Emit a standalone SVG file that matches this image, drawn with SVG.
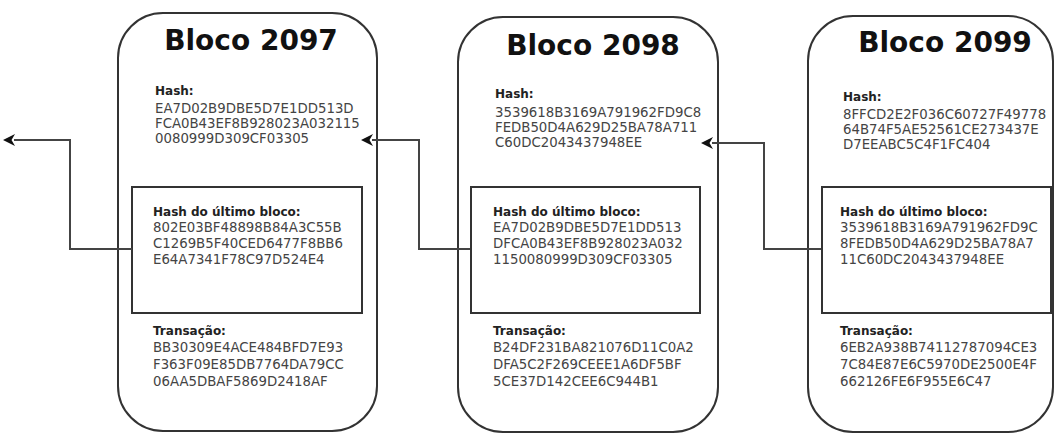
<svg xmlns="http://www.w3.org/2000/svg" width="1056" height="434" viewBox="0 0 1056 434">
<style>
.blk{fill:#fff;stroke:#333;stroke-width:2}
.inner{fill:#fff;stroke:#333;stroke-width:2}
.title{font-family:"DejaVu Sans",Verdana,sans-serif;font-weight:bold;font-size:28px;fill:#111;text-anchor:middle}
.lbl{font-family:"DejaVu Sans",Verdana,sans-serif;font-weight:bold;font-size:12px;fill:#222}
.hex{font-family:"DejaVu Sans",Verdana,sans-serif;font-size:13.3px;fill:#444}
.con{fill:none;stroke:#444;stroke-width:2}
</style>
<defs>
<marker id="arr" viewBox="0 0 12 12" refX="1" refY="6" markerWidth="12" markerHeight="12" markerUnits="userSpaceOnUse" orient="auto">
<path d="M12,6 L0,0 L3.5,6 L0,12 Z" fill="#111"/>
</marker>
</defs>
<rect width="1056" height="434" fill="#fff"/>
<g id="bloco2097">
<rect class="blk" x="118" y="13" width="259" height="418" rx="45" ry="45"/>
<rect class="inner" x="132" y="187" width="230" height="126"/>
<text class="title" x="251" y="50">Bloco 2097</text>
<text class="lbl" x="155" y="95">Hash:</text>
<text class="hex" x="155" y="113">EA7D02B9DBE5D7E1DD513D</text>
<text class="hex" x="155" y="128">FCA0B43EF8B928023A032115</text>
<text class="hex" x="155" y="143">0080999D309CF03305</text>
<text class="lbl" x="153" y="216">Hash do último bloco:</text>
<text class="hex" x="153" y="232">802E03BF48898B84A3C55B</text>
<text class="hex" x="153" y="248">C1269B5F40CED6477F8BB6</text>
<text class="hex" x="153" y="264">E64A7341F78C97D524E4</text>
<text class="lbl" x="153" y="335">Transação:</text>
<text class="hex" x="153" y="352">BB30309E4ACE484BFD7E93</text>
<text class="hex" x="153" y="369">F363F09E85DB7764DA79CC</text>
<text class="hex" x="153" y="386">06AA5DBAF5869D2418AF</text>
</g>
<g id="bloco2098">
<rect class="blk" x="458" y="17" width="260" height="415" rx="45" ry="45"/>
<rect class="inner" x="471" y="187" width="229" height="126"/>
<text class="title" x="593" y="55">Bloco 2098</text>
<text class="lbl" x="495" y="98">Hash:</text>
<text class="hex" x="495" y="117">3539618B3169A791962FD9C8</text>
<text class="hex" x="495" y="132">FEDB50D4A629D25BA78A711</text>
<text class="hex" x="495" y="147">C60DC2043437948EE</text>
<text class="lbl" x="493" y="216">Hash do último bloco:</text>
<text class="hex" x="493" y="232">EA7D02B9DBE5D7E1DD513</text>
<text class="hex" x="493" y="248">DFCA0B43EF8B928023A032</text>
<text class="hex" x="493" y="264">1150080999D309CF03305</text>
<text class="lbl" x="493" y="335">Transação:</text>
<text class="hex" x="493" y="352">B24DF231BA821076D11C0A2</text>
<text class="hex" x="493" y="369">DFA5C2F269CEEE1A6DF5BF</text>
<text class="hex" x="493" y="386">5CE37D142CEE6C944B1</text>
</g>
<g id="bloco2099">
<rect class="blk" x="808" y="16" width="245" height="416" rx="45" ry="45"/>
<rect class="inner" x="822" y="187" width="229" height="126"/>
<text class="title" x="945" y="52">Bloco 2099</text>
<text class="lbl" x="843" y="101">Hash:</text>
<text class="hex" x="843" y="119">8FFCD2E2F036C60727F49778</text>
<text class="hex" x="843" y="134">64B74F5AE52561CE273437E</text>
<text class="hex" x="843" y="149">D7EEABC5C4F1FC404</text>
<text class="lbl" x="840" y="216">Hash do último bloco:</text>
<text class="hex" x="840" y="232">3539618B3169A791962FD9C</text>
<text class="hex" x="840" y="248">8FEDB50D4A629D25BA78A7</text>
<text class="hex" x="840" y="264">11C60DC2043437948EE</text>
<text class="lbl" x="840" y="335">Transação:</text>
<text class="hex" x="840" y="352">6EB2A938B74112787094CE3</text>
<text class="hex" x="840" y="369">7C84E87E6C5970DE2500E4F</text>
<text class="hex" x="840" y="386">662126FE6F955E6C47</text>
</g>
<g id="connectors">
<path class="con" d="M132,249 H70 V140 H14" marker-end="url(#arr)"/>
<path class="con" d="M470,249 H419 V140 H372" marker-end="url(#arr)"/>
<path class="con" d="M821,249 H764 V143 H712" marker-end="url(#arr)"/>
</g>
</svg>
